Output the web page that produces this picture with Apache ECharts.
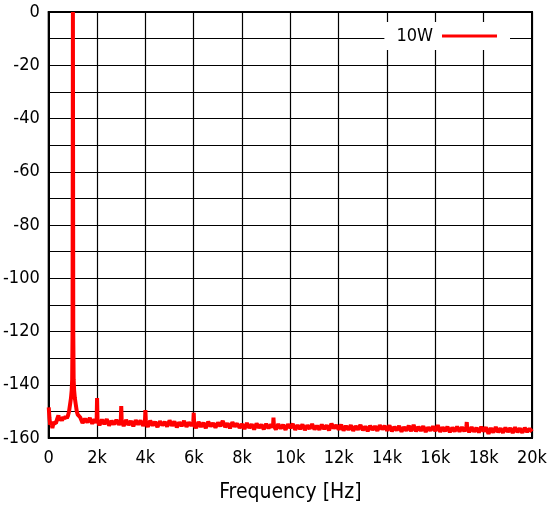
<!DOCTYPE html>
<html>
<head>
<meta charset="utf-8">
<script src="https://cdn.jsdelivr.net/npm/echarts@6/dist/echarts.min.js"></script>
<style>
  html, body { margin: 0; padding: 0; background: #fff; }
  #chart { width: 550px; height: 510px; }
</style>
</head>
<body>
<div id="chart"></div>
<script>
// spectrum of the 10W measurement, [frequency Hz, level dB]
var spectrum = [
  [0,-148.5],[30,-152.5],[60,-155],[100,-153.8],[150,-156.3],[200,-154.2],[250,-153.6],[300,-154.5],[350,-152.8],[400,-151.5],
  [450,-153.4],[500,-152.4],[550,-153.5],[600,-152.1],[650,-152.9],[700,-151.8],[750,-152.6],[800,-151.5],[840,-150],[880,-147.5],
  [920,-145],[950,-142],[970,-138],[985,-120],[995,-40],[1000,0],[1005,-40],[1015,-120],[1030,-138],[1050,-142],
  [1080,-145],[1120,-147.5],[1160,-150],[1200,-151.2],[1250,-150.8],[1300,-152.2],[1400,-154.4],[1500,-152.8],[1600,-154.1],[1700,-152.5],
  [1800,-154.6],[1900,-153],[1980,-154.3],[2000,-145],[2020,-153.5],[2100,-155.2],[2200,-153.1],[2300,-154.8],[2400,-152.9],[2500,-155.3],
  [2600,-153.6],[2700,-154.9],[2800,-153.2],[2900,-155],[2980,-153.8],[3000,-148],[3020,-153.9],[3100,-155.5],[3200,-153.2],[3300,-155.1],
  [3400,-153.6],[3500,-155.6],[3600,-153.3],[3700,-154.9],[3800,-153.5],[3900,-155.4],[3980,-154],[4000,-149.5],[4020,-154.2],[4100,-155.8],
  [4200,-153.5],[4300,-155.3],[4400,-153.9],[4500,-155.9],[4600,-153.7],[4700,-155.2],[4800,-154],[4900,-155.7],[5000,-153.4],[5100,-155.4],
  [5200,-153.8],[5300,-156],[5400,-154.1],[5500,-155.5],[5600,-153.6],[5700,-155.8],[5800,-154.2],[5900,-155.3],[5980,-154.5],[6000,-150.5],
  [6020,-155.2],[6100,-156.2],[6200,-154],[6300,-155.8],[6400,-154.3],[6500,-156.3],[6600,-153.9],[6700,-155.6],[6800,-154.4],[6900,-156.1],
  [7000,-154.2],[7100,-155.5],[7200,-153.6],[7300,-155.9],[7400,-154.5],[7500,-156.3],[7600,-154.1],[7700,-155.7],[7800,-154.6],[7900,-156.2],
  [8000,-154.8],[8100,-156.6],[8200,-154.4],[8300,-156.2],[8400,-154.9],[8500,-156.8],[8600,-154.6],[8700,-156.1],[8800,-155],[8900,-156.7],
  [9000,-154.7],[9100,-156.3],[9200,-155],[9280,-156],[9300,-152.3],[9320,-155.5],[9400,-156.8],[9500,-154.8],[9600,-156.4],[9700,-155.1],
  [9800,-156.9],[9900,-154.9],[10000,-156.2],[10100,-154.7],[10200,-156.9],[10300,-155.2],[10400,-156.6],[10500,-154.9],[10600,-157],[10700,-155.3],
  [10800,-156.5],[10900,-154.8],[11000,-156.8],[11100,-155.4],[11200,-156.9],[11300,-155],[11400,-156.6],[11500,-155.3],[11600,-157.1],[11700,-154.6],
  [11800,-156.4],[11900,-155.2],[12000,-156.8],[12100,-155],[12200,-157.2],[12300,-155.5],[12400,-156.9],[12500,-155.2],[12600,-157.3],[12700,-155.6],
  [12800,-156.8],[12900,-155.1],[13000,-157.1],[13100,-155.7],[13200,-157.4],[13300,-155.4],[13400,-156.9],[13500,-155.6],[13600,-157.3],[13700,-155.2],
  [13800,-156.7],[13900,-155.5],[14000,-157.2],[14100,-155.3],[14200,-157.5],[14300,-155.8],[14400,-157.1],[14500,-155.5],[14600,-157.6],[14700,-155.9],
  [14800,-157.2],[14900,-155.4],[15000,-157.4],[15100,-155.1],[15200,-157.5],[15300,-155.8],[15400,-157.3],[15500,-155.6],[15600,-157.7],[15700,-156],
  [15800,-157.2],[15900,-155.7],[16000,-157.4],[16100,-155.2],[16200,-157.7],[16300,-156],[16400,-157.4],[16500,-155.8],[16600,-157.8],[16700,-156.1],
  [16800,-157.5],[16900,-155.7],[17000,-157.6],[17100,-156],[17200,-157.4],[17280,-156.2],[17300,-154],[17320,-156.5],[17400,-157.8],[17500,-155.9],
  [17600,-157.6],[17700,-156.2],[17800,-157.9],[17900,-155.8],[18000,-157.5],[18100,-156],[18200,-158.4],[18300,-156.3],[18400,-157.9],[18500,-155.9],
  [18600,-157.8],[18700,-156.4],[18800,-158],[18900,-156.1],[19000,-157.7],[19100,-156.3],[19200,-158.1],[19300,-156],[19400,-157.8],[19500,-156.4],
  [19600,-158],[19700,-156.2],[19800,-157.7],[19900,-156.5],[20000,-157.6]
];
var seriesName = '10W';
var freqMin = 0, freqMax = 20000, freqStep = 2000;
var dbMin = -160, dbMax = 0, dbStep = 10;

var font = '"DejaVu Sans Condensed", "DejaVu Sans", sans-serif';
var stretch = 'normal condensed';

var myChart = echarts.init(document.getElementById('chart'));
var option = {
  animation: false,
  grid: {
    left: 48, right: 16, top: 12, bottom: 72,
    show: true,
    borderColor: '#000',
    borderWidth: 2
  },
  legend: {
    data: [seriesName],
    right: 40,
    top: 22,
    align: 'right',
    icon: 'rect',
    itemWidth: 55,
    itemHeight: 3,
    itemGap: 0,
    padding: [5, 13, 5, 12],
    backgroundColor: '#fff',
    textStyle: { fontFamily: font, fontWeight: stretch, fontSize: 18, color: '#000', padding: [0, 4, 0, 0] }
  },
  xAxis: {
    type: 'value',
    min: freqMin,
    max: freqMax,
    interval: freqStep,
    name: 'Frequency [Hz]',
    nameLocation: 'middle',
    nameGap: 44,
    nameTextStyle: { fontFamily: font, fontWeight: stretch, fontSize: 21, color: '#000' },
    axisLine: { show: true, lineStyle: { color: '#000', width: 2 } },
    axisTick: { show: false },
    axisLabel: {
      fontFamily: font, fontWeight: stretch, fontSize: 18, color: '#000', margin: 11,
      formatter: function (v) { return v === 0 ? '0' : (v / 1000) + 'k'; }
    },
    splitLine: { show: true, lineStyle: { color: '#000', width: 1.2 } }
  },
  yAxis: {
    type: 'value',
    min: dbMin,
    max: dbMax,
    interval: dbStep,
    axisLine: { show: true, lineStyle: { color: '#000', width: 2 } },
    axisTick: { show: false },
    axisLabel: {
      fontFamily: font, fontWeight: stretch, fontSize: 18, color: '#000', margin: 9,
      interval: 1,
      formatter: function (v) { return (v % 20 === 0) ? String(v) : ''; }
    },
    splitLine: { show: true, lineStyle: { color: '#000', width: 1.2 } }
  },
  series: [
    {
      name: seriesName,
      type: 'line',
      data: spectrum,
      symbol: 'none',
      clip: true,
      lineStyle: { color: '#ff0000', width: 4 },
      itemStyle: { color: '#ff0000' }
    }
  ]
};
myChart.setOption(option);
</script>
</body>
</html>
